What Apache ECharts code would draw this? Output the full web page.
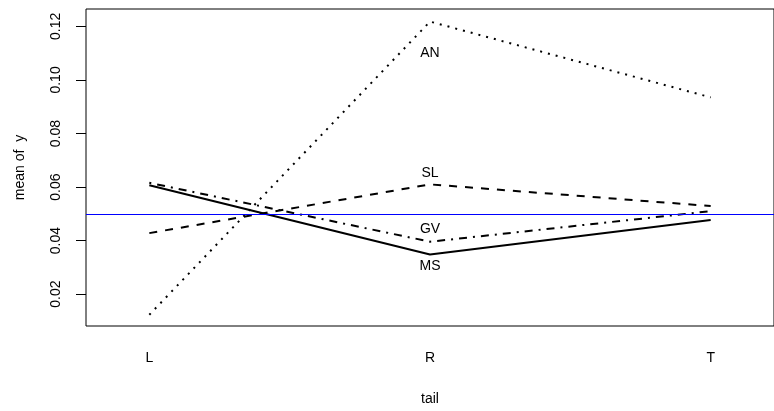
<!DOCTYPE html>
<html><head><meta charset="utf-8">
<script src="https://cdn.jsdelivr.net/npm/echarts@6/dist/echarts.min.js"></script>
<style>html,body{margin:0;padding:0;background:#fff}#c{width:774px;height:411px}</style>
</head><body><div id="c"></div>
<script>
const categories = ['L', 'R', 'T'];
const seriesNames = ['AN', 'SL', 'GV', 'MS'];
const AN = [0.0123, 0.1218, 0.0935];
const SL = [0.0428, 0.0610, 0.0529];
const GV = [0.0616, 0.0396, 0.0510];
const MS = [0.0607, 0.0348, 0.0477];
const yTicks = [0.02, 0.04, 0.06, 0.08, 0.10, 0.12];
const refLine = 0.05;
const labelAt = 'R';

const FONT = "'Liberation Sans', Arial, Helvetica, sans-serif";
const FS = 14;
const xIdx = categories.map((c, i) => i + 1);
const styles = {
  AN: { type: [2, 6], pos: 'bottom', dist: 24.5 },
  SL: { type: [8, 8], pos: 'top', dist: 3.5 },
  GV: { type: [2, 6, 8, 6], pos: 'top', dist: 5.5 },
  MS: { type: 'solid', pos: 'bottom', dist: 4 }
};
const values = { AN, SL, GV, MS };

const series = seriesNames.map((name, si) => {
  const st = styles[name];
  const s = {
    name, type: 'line', silent: true, animation: false,
    symbol: 'circle', symbolSize: 1,
    itemStyle: { color: 'rgba(0,0,0,0)', borderWidth: 0 },
    lineStyle: { color: '#000', width: 2, type: st.type, cap: 'butt' },
    data: values[name].map((v, i) => {
      const d = { value: [xIdx[i], v] };
      if (categories[i] === labelAt) {
        d.label = { show: true, formatter: name, position: st.pos, distance: st.dist,
          color: '#000', opacity: 1, fontSize: FS, fontFamily: FONT };
      }
      return d;
    }),
    emphasis: { disabled: true }
  };
  if (si === 0) {
    s.markLine = {
      silent: true, symbol: 'none', animation: false,
      label: { show: false },
      lineStyle: { color: '#0000FF', width: 1, type: 'solid' },
      data: [{ yAxis: refLine }]
    };
  }
  return s;
});

const chart = echarts.init(document.getElementById('c'), null, { renderer: 'canvas' });
chart.setOption({
  animation: false,
  backgroundColor: '#fff',
  grid: { left: 86, right: -2, top: 9, bottom: 79.3, show: true, borderColor: '#000', borderWidth: 1, backgroundColor: 'transparent' },
  xAxis: {
    type: 'value', min: 0.7744, max: 3.2256,
    name: 'tail', nameLocation: 'middle', nameGap: 66,
    nameTextStyle: { color: '#000', fontSize: FS, fontFamily: FONT },
    axisLine: { show: false }, axisTick: { show: false }, splitLine: { show: false },
    axisLabel: { customValues: xIdx, formatter: v => categories[Math.round(v) - 1] || '', margin: 25,
      color: '#000', fontSize: FS, fontFamily: FONT }
  },
  yAxis: {
    type: 'value', min: 0.00811, max: 0.1265,
    name: 'mean of  y', nameLocation: 'middle', nameGap: 59, nameRotate: 90,
    nameTextStyle: { color: '#000', fontSize: FS, fontFamily: FONT },
    axisLine: { show: false }, splitLine: { show: false },
    axisTick: { show: true, customValues: yTicks, length: 10, inside: false, lineStyle: { color: '#000', width: 1 } },
    axisLabel: { customValues: yTicks, rotate: 90, margin: 23, formatter: v => v.toFixed(2),
      color: '#000', fontSize: FS, fontFamily: FONT }
  },
  series
});
</script></body></html>
